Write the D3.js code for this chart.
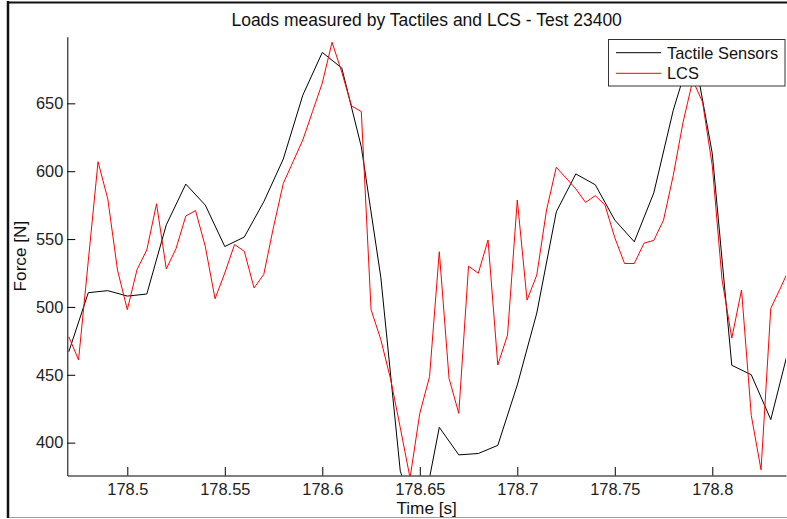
<!DOCTYPE html>
<html>
<head>
<meta charset="utf-8">
<script src="https://cdn.jsdelivr.net/npm/d3@7"></script>
<style>
  html, body { margin: 0; padding: 0; background: #fff; }
  svg { display: block; font-family: "Liberation Sans", Arial, sans-serif; }
</style>
</head>
<body>
<div id="chart"></div>
<script>
// Tactile sensors, sampled every 0.01 s from 178.47 s
const tactileStart = 178.47;
const tactileStep = 0.01;
const tactileForce = [467, 510.5, 512, 508, 509.5, 560.5, 590.5, 575, 544.5, 551.5,
  577.5, 609, 656, 687.5, 676, 618, 522, 379, 337, 411.3,
  391, 392, 398, 442.5, 495.5, 570, 598, 590, 564, 548,
  584, 645, 692, 613, 457, 450, 417, 474];

// LCS, sampled every 0.005 s from 178.47 s
const lcsStart = 178.47;
const lcsStep = 0.005;
const lcsForce = [478, 461, 534, 607, 579.5, 527, 498, 527.5, 542, 576,
  528, 543, 567, 571, 544.5, 506, 525, 546, 541, 514,
  524, 559, 591, 607, 623, 644, 665, 695, 673, 648,
  644, 498, 476, 447, 411, 374, 421.6, 448.6, 540.7, 447.4,
  421.6, 530, 524.8, 549.3, 457.2, 479.3, 578.8, 505, 523.5, 571.4,
  602.9, 595, 587, 577, 582, 575, 551, 532, 532, 547,
  549, 564, 597, 636, 667, 651, 604, 520, 477, 512.5,
  420, 380, 499, 514, 530];

const xTicks = [178.5, 178.55, 178.6, 178.65, 178.7, 178.75, 178.8];
const yTicks = [400, 450, 500, 550, 600, 650];
const seriesNames = ["Tactile Sensors", "LCS"];
const seriesColours = ["#000000", "#ff0000"];

const width = 787, height = 519;
const plot = {left: 67.3, right: 786, top: 36.7, bottom: 475.5};

const svg = d3.select("#chart")
  .append("svg")
    .attr("width", width)
    .attr("height", height);

// figure frame
svg.append("line")
  .attr("x1", 8).attr("x2", 8).attr("y1", 1).attr("y2", 518)
  .attr("stroke", "#111").attr("stroke-width", 2.5);
svg.append("line")
  .attr("x1", 7).attr("x2", width).attr("y1", 2.5).attr("y2", 2.5)
  .attr("stroke", "#111").attr("stroke-width", 2);
svg.append("line")
  .attr("x1", 9).attr("x2", width).attr("y1", 517.5).attr("y2", 517.5)
  .attr("stroke", "#a0a0a0").attr("stroke-width", 1);

// scales
const xScale = d3.scaleLinear()
  .domain([178.46923, 178.8378])
  .range([plot.left, plot.right]);
const yScale = d3.scaleLinear()
  .domain([375.8, 699.1])
  .range([plot.bottom, plot.top]);

svg.append("clipPath")
  .attr("id", "plot-clip")
  .append("rect")
    .attr("x", plot.left)
    .attr("y", plot.top)
    .attr("width", plot.right - plot.left)
    .attr("height", plot.bottom - plot.top);

// data
const tactile = tactileForce.map((v, i) => ({t: tactileStart + i * tactileStep, v}));
const lcs = lcsForce.map((v, i) => ({t: lcsStart + i * lcsStep, v}));

const line = d3.line()
  .x(d => xScale(d.t))
  .y(d => yScale(d.v));

const lines = svg.append("g").attr("clip-path", "url(#plot-clip)");
lines.append("path")
  .datum(tactile)
  .attr("fill", "none")
  .attr("stroke", seriesColours[0])
  .attr("stroke-width", 1)
  .attr("d", line);
lines.append("path")
  .datum(lcs)
  .attr("fill", "none")
  .attr("stroke", seriesColours[1])
  .attr("stroke-width", 1)
  .attr("d", line);

// axes, ticks point inwards
const xAxis = d3.axisBottom(xScale)
  .tickValues(xTicks)
  .tickFormat(d3.format("~g"))
  .tickSizeInner(-8.5)
  .tickSizeOuter(0)
  .tickPadding(8);
const yAxis = d3.axisLeft(yScale)
  .tickValues(yTicks)
  .tickSizeInner(-8)
  .tickSizeOuter(0)
  .tickPadding(4);

const gx = svg.append("g")
  .attr("transform", `translate(0, ${plot.bottom})`)
  .call(xAxis);
const gy = svg.append("g")
  .attr("transform", `translate(${plot.left}, 0)`)
  .call(yAxis);

[gx, gy].forEach(g => {
  g.select(".domain").attr("stroke", "#000");
  g.selectAll(".tick line").attr("stroke", "#000");
  g.selectAll(".tick text")
    .attr("fill", "#222")
    .style("font-size", "16.4px")
    .style("font-family", "'Liberation Sans', Arial, sans-serif");
});

// titles
svg.append("text")
  .attr("x", (plot.left + plot.right) / 2)
  .attr("y", 26)
  .attr("text-anchor", "middle")
  .attr("fill", "#111")
  .style("font-size", "17.5px")
  .text("Loads measured by Tactiles and LCS - Test 23400");

svg.append("text")
  .attr("x", (plot.left + plot.right) / 2)
  .attr("y", 514)
  .attr("text-anchor", "middle")
  .attr("fill", "#111")
  .style("font-size", "17.2px")
  .text("Time [s]");

svg.append("text")
  .attr("transform", `translate(26, ${(plot.top + plot.bottom) / 2}) rotate(-90)`)
  .attr("text-anchor", "middle")
  .attr("fill", "#111")
  .style("font-size", "17.2px")
  .text("Force [N]");

// legend
const legend = svg.append("g");
legend.append("rect")
  .attr("x", 608.5).attr("y", 39.5)
  .attr("width", 176.5).attr("height", 46.5)
  .attr("fill", "#fff")
  .attr("stroke", "#333")
  .attr("stroke-width", 1);

const rowY = [52.7, 73.3];
seriesNames.forEach((name, i) => {
  legend.append("line")
    .attr("x1", 616).attr("x2", 661)
    .attr("y1", rowY[i]).attr("y2", rowY[i])
    .attr("stroke", seriesColours[i])
    .attr("stroke-width", 1);
  legend.append("text")
    .attr("x", 667)
    .attr("y", rowY[i])
    .attr("dy", "0.36em")
    .attr("fill", "#111")
    .style("font-size", "16.4px")
    .text(name);
});
</script>
</body>
</html>
